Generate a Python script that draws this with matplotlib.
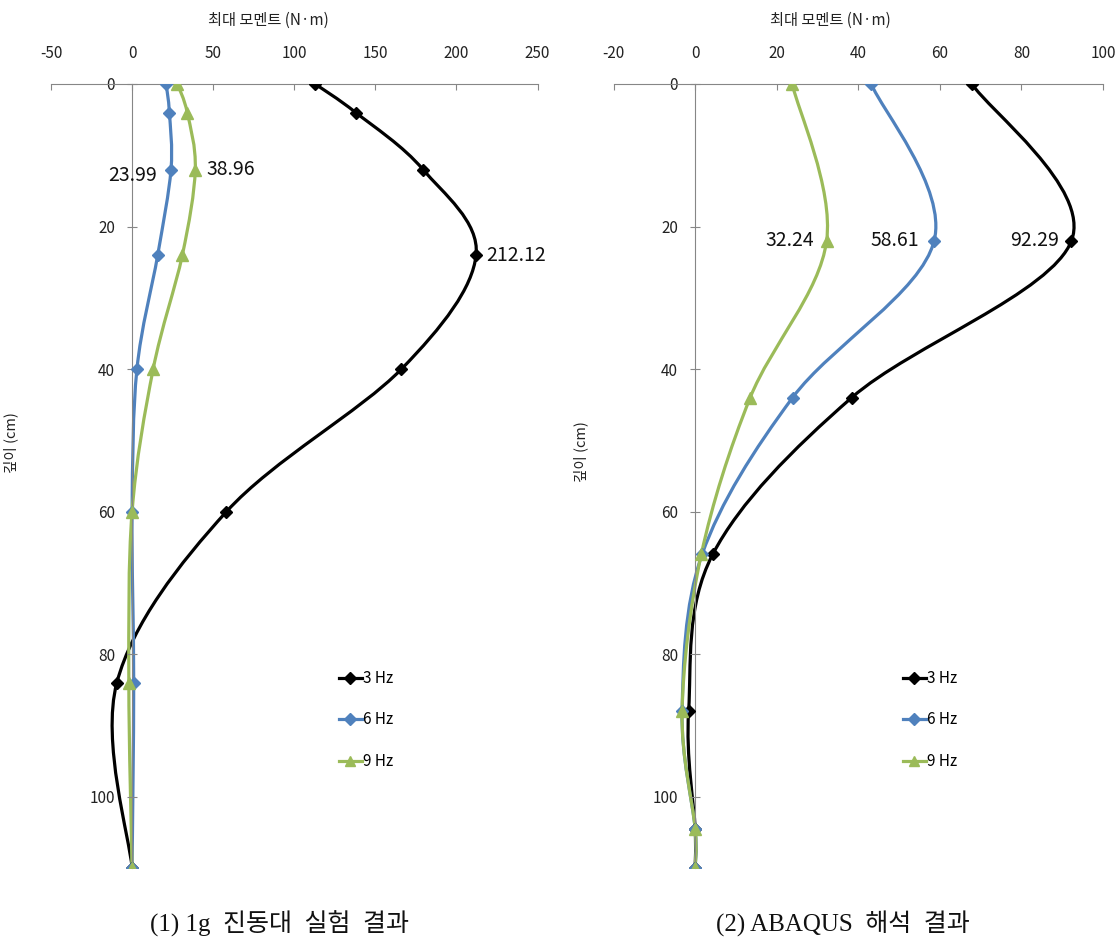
import numpy as np
import matplotlib
matplotlib.use("Agg")
import matplotlib.pyplot as plt
from matplotlib.path import Path
from matplotlib.patches import PathPatch
from matplotlib.lines import Line2D

plt.rcParams["font.family"] = ["Noto Sans CJK KR", "DejaVu Sans"]
plt.rcParams["axes.unicode_minus"] = False

# (1) 1g shaking table test: depth (cm) and peak moment (N·m)
depth_test = [0, 4, 12, 24, 40, 60, 84, 110]
m3_test = [112.9, 137.9, 179.4, 212.12, 166.1, 58.2, -9.4, 0.0]
m6_test = [21.0, 23.0, 23.99, 15.8, 3.0, 0.0, 1.0, 0.0]
m9_test = [28.0, 34.0, 38.96, 31.0, 13.0, 0.0, -2.0, 0.0]

# (2) ABAQUS analysis
depth_fem = [0, 22, 44, 66, 88, 104.5, 110]
m3_fem = [67.9, 92.29, 38.4, 4.3, -1.6, 0.0, 0.0]
m6_fem = [43.2, 58.61, 23.9, 1.7, -3.2, 0.0, 0.0]
m9_fem = [23.8, 32.24, 13.5, 1.5, -3.2, 0.0, 0.0]

freq_labels = ["3 Hz", "6 Hz", "9 Hz"]
colors = ["#000000", "#4F81BD", "#9BBB59"]
markers = ["D", "D", "^"]
msizes = [6.5, 6.5, 8.5]

AXIS_GRAY = "#868686"


def smooth_path(xs, ys):
    """Cubic Bezier path through the points (Excel-style smoothed line)."""
    p = np.column_stack([xs, ys]).astype(float)
    verts = [p[0]]
    codes = [Path.MOVETO]
    for i in range(len(p) - 1):
        p0 = p[i - 1] if i > 0 else p[i]
        p1, p2 = p[i], p[i + 1]
        p3 = p[i + 2] if i + 2 < len(p) else p[i + 1]
        verts += [p1 + (p2 - p0) / 6.0, p2 - (p3 - p1) / 6.0, p2]
        codes += [Path.CURVE4] * 3
    return Path(verts, codes)


def style_axes(ax, xlim, xstep):
    ax.set_xlim(*xlim)
    ax.set_ylim(110, 0)
    ax.set_xticks(np.arange(xlim[0], xlim[1] + 1, xstep))
    ax.set_yticks([0, 20, 40, 60, 80, 100])
    ax.xaxis.tick_top()
    ax.spines["right"].set_visible(False)
    ax.spines["bottom"].set_visible(False)
    ax.spines["left"].set_position(("data", 0))
    for s in ("top", "left"):
        ax.spines[s].set_color(AXIS_GRAY)
        ax.spines[s].set_linewidth(0.8)
    ax.tick_params(axis="x", direction="in", length=4, width=0.8, color=AXIS_GRAY,
                   labelsize=11, pad=16, labelcolor="#222222")
    ax.tick_params(axis="y", direction="inout", length=6.5, width=0.8, color=AXIS_GRAY,
                   labelsize=11, pad=9, labelcolor="#222222")
    ax.patch.set_visible(False)


def draw_series(ax, depth, series):
    for vals, c, mk, ms in zip(series, colors, markers, msizes):
        ax.add_patch(PathPatch(smooth_path(vals, depth), fill=False, edgecolor=c,
                               lw=2.3, capstyle="round", joinstyle="round"))
        ax.plot(vals, depth, linestyle="none", marker=mk, ms=ms, color=c, zorder=3)


def add_legend(ax, x_px, y_px):
    handles = [Line2D([], [], color=c, lw=2.3, marker=mk, ms=ms)
               for c, mk, ms in zip(colors, markers, msizes)]
    ax.legend(handles, freq_labels, loc="upper left", frameon=False,
              bbox_to_anchor=(x_px / 1119, 1 - y_px / 940),
              bbox_transform=ax.figure.transFigure, fontsize=11,
              handlelength=1.5, handletextpad=0.05, labelspacing=1.6,
              borderpad=0, borderaxespad=0, markerscale=0.9)


fig = plt.figure(figsize=(11.19, 9.40), dpi=100)
ax1 = fig.add_axes([51 / 1119, 1 - 868 / 940, 486.5 / 1119, 784 / 940])
ax2 = fig.add_axes([613.6 / 1119, 1 - 868 / 940, 489.3 / 1119, 784 / 940])

style_axes(ax1, (-50, 250), 50)
style_axes(ax2, (-20, 100), 20)

draw_series(ax1, depth_test, [m3_test, m6_test, m9_test])
draw_series(ax2, depth_fem, [m3_fem, m6_fem, m9_fem])

# value labels at the peak moments
lab_kw = dict(textcoords="offset points", va="center", fontsize=14, color="#111111")
ax1.annotate(f"{m6_test[2]:.2f}", (m6_test[2], depth_test[2]), xytext=(-10, -4),
             ha="right", **lab_kw)
ax1.annotate(f"{m9_test[2]:.2f}", (m9_test[2], depth_test[2]), xytext=(8, 0),
             ha="left", **lab_kw)
ax1.annotate(f"{m3_test[3]:.2f}", (m3_test[3], depth_test[3]), xytext=(7, 0),
             ha="left", **lab_kw)
for vals, dx in zip([m9_fem, m6_fem, m3_fem], [-9, -11, -9]):
    ax2.annotate(f"{vals[1]:.2f}", (vals[1], depth_fem[1]), xytext=(dx, 0),
                 ha="right", **lab_kw)

add_legend(ax1, 339, 670)
add_legend(ax2, 903, 670)

# axis titles
fig.text(268 / 1119, 1 - 20 / 940, "최대 모멘트 (N·m)", ha="center", va="center",
         fontsize=11, color="#222222")
fig.text(830 / 1119, 1 - 20 / 940, "최대 모멘트 (N·m)", ha="center", va="center",
         fontsize=11, color="#222222")
fig.text(11 / 1119, 1 - 443 / 940, "깊이 (cm)", ha="center", va="center",
         rotation=90, fontsize=10.5, color="#222222")
fig.text(581 / 1119, 1 - 452 / 940, "깊이 (cm)", ha="center", va="center",
         rotation=90, fontsize=10.5, color="#222222")

# panel captions
cap_kw = dict(ha="center", va="center", fontsize=18, color="#111111",
              family=["Liberation Serif", "Noto Sans CJK KR"])
fig.text(280 / 1119, 1 - 924 / 940, "(1) 1g  진동대  실험  결과", **cap_kw)
fig.text(843 / 1119, 1 - 924 / 940, "(2) ABAQUS  해석  결과", **cap_kw)

fig.savefig("out.png", dpi=100)
